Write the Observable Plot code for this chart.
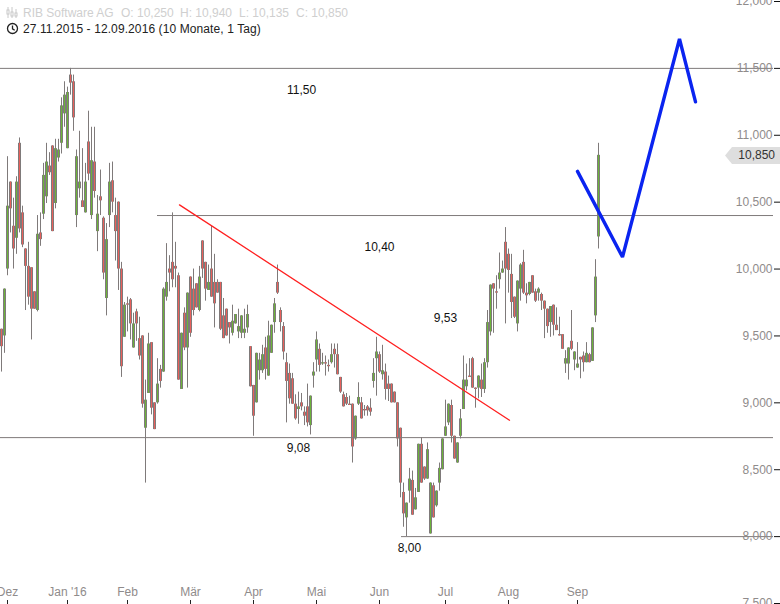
<!DOCTYPE html>
<html><head><meta charset="utf-8">
<script src="https://cdn.jsdelivr.net/npm/d3@7"></script>
<script src="https://cdn.jsdelivr.net/npm/@observablehq/plot@0.6"></script>
<style>
html,body{margin:0;padding:0;background:#fff;}
#wrap{position:relative;width:780px;height:604px;overflow:hidden;font-family:"Liberation Sans",Arial,sans-serif;}
#wrap svg.chart,#wrap figure{display:block;margin:0;}
.hd{position:absolute;font-size:12px;line-height:14px;white-space:pre;}
#pill{position:absolute;left:725px;top:147px;width:55px;height:17px;background:#dedede;clip-path:polygon(0 50%,7px 0,100% 0,100% 100%,7px 100%);font-size:12px;line-height:17px;color:#333;text-align:right;box-sizing:border-box;padding-right:5px;}
.ic{position:absolute;left:6px;}
</style></head><body>
<div id="wrap">
<div id="chart"></div>
<svg class="ic" style="top:6px" width="12" height="13" viewBox="0 0 12 13"><g stroke="#c8c8c8" fill="none"><path d="M2 1v11M6 1v11M10 3v9"/><rect x="1" y="4" width="2" height="4" fill="#fff"/><rect x="5" y="6" width="2" height="4" fill="#fff"/><rect x="9" y="7" width="2" height="3" fill="#fff"/></g></svg>
<svg class="ic" style="top:22px" width="13" height="13" viewBox="0 0 13 13"><g stroke="#222" stroke-width="1.3" fill="none"><circle cx="6.5" cy="6.5" r="5"/><path d="M6.5 3.5v3.3l2.2 1.4"/></g></svg>
<div class="hd" style="left:23px;top:6px;color:#cfcfcf">RIB Software AG</div>
<div class="hd" style="left:121px;top:6px;color:#cfcfcf">O: 10,250</div>
<div class="hd" style="left:180px;top:6px;color:#cfcfcf">H: 10,940</div>
<div class="hd" style="left:239px;top:6px;color:#cfcfcf">L: 10,135</div>
<div class="hd" style="left:296px;top:6px;color:#cfcfcf">C: 10,850</div>
<div class="hd" style="left:23px;top:22px;color:#222;letter-spacing:.1px">27.11.2015 - 12.09.2016 (10 Monate, 1 Tag)</div>
<div id="pill">10,850</div>
</div>
<script>
const candleColors = "RGGRRGRRRR"+"RRGRGGRRGG"+"GGGRRGGRGR"+"GRGRRGGRRR"+"RGRRGRRRGG"+"RRGRGGRRRR"+"GRGRRRGRRG"+"RRRRRRRGGG"+"GGGRRGGGRG"+"GGRRRRRRRG"+"RRRGGGRGRR"+"GRRRRRRRGG"+"RRRRGGRGRR"+"RRRRRGGRGG"+"RRGGRGGGGG"+"RRGGGGRRRG"+"RGGGRRGGRR"+"RRGGRRGRRG"+"RRRGRRRRGG"+"RGGRRGRGGG";
const bodyTop = [9.55,9.85,10.47,10.65,10.32,10.65,10.94,10.42,10.15,10.02,
10.01,9.83,10.26,10.27,10.70,10.80,10.77,10.92,10.90,10.89,
11.22,11.30,11.32,11.45,11.40,10.84,10.65,10.51,10.65,10.95,
10.81,10.80,10.41,10.54,10.38,10.22,10.65,10.66,10.40,10.50,
10.00,9.73,9.74,9.77,9.59,9.68,9.48,9.50,9.02,9.44,
9.45,9.00,9.14,9.25,9.85,9.90,10.00,10.05,10.02,9.95,
9.52,9.67,9.82,9.94,9.85,9.89,9.94,10.21,10.05,9.90,
10.00,9.90,9.90,9.90,9.65,9.70,9.60,9.61,9.66,9.57,
9.65,9.55,9.66,9.42,9.13,9.37,9.32,9.36,9.41,9.50,
9.58,9.74,9.90,9.69,9.57,9.30,9.22,9.18,8.99,8.97,
9.00,8.93,8.97,9.05,9.23,9.47,9.40,9.30,9.30,9.28,
9.36,9.40,9.36,9.19,9.06,9.04,8.99,8.99,8.90,9.04,
9.00,8.95,8.97,8.96,9.22,9.38,9.36,9.24,9.23,9.14,
9.14,9.08,9.00,8.81,8.33,8.25,8.43,8.42,8.29,8.69,
8.69,8.52,8.65,8.40,8.38,8.34,8.51,8.73,8.82,8.99,
8.98,8.75,8.70,8.88,9.17,9.17,9.20,9.33,9.11,9.20,
9.17,9.30,9.60,9.88,9.89,9.83,9.97,10.00,10.20,10.11,
9.96,9.79,9.91,10.03,10.05,9.82,9.90,9.95,9.83,9.85,
9.81,9.76,9.70,9.72,9.73,9.58,9.51,9.51,9.33,9.41,
9.46,9.38,9.29,9.34,9.35,9.37,9.36,9.56,9.94,10.85];
const bodyBottom = [9.42,9.50,10.00,10.45,10.15,10.23,10.30,10.18,10.02,9.79,
9.70,9.70,9.69,10.22,10.41,10.54,10.72,10.28,10.49,10.83,
10.94,11.16,10.90,11.39,11.13,10.40,10.60,10.46,10.42,10.71,
10.40,10.58,10.28,10.51,9.97,9.78,10.40,10.50,10.28,10.00,
9.27,9.49,9.73,9.59,9.41,9.59,9.35,8.99,8.81,9.07,
8.96,8.80,9.00,9.16,9.23,9.79,9.97,9.92,10.00,9.17,
9.10,9.41,9.41,9.52,9.69,9.71,9.69,10.00,9.85,9.84,
9.79,9.74,9.82,9.55,9.48,9.50,9.56,9.52,9.59,9.53,
9.52,9.52,9.56,9.12,8.90,9.00,9.24,9.24,9.25,9.20,
9.37,9.60,9.82,9.60,9.38,9.16,9.03,8.99,8.88,8.95,
8.97,8.90,8.85,8.83,9.20,9.32,9.28,9.29,9.29,9.27,
9.30,9.36,9.21,9.08,8.97,8.99,8.98,8.67,8.73,8.99,
8.88,8.94,8.94,8.93,9.16,9.33,9.23,9.21,9.10,9.10,
9.00,9.00,8.73,8.40,8.17,8.14,8.34,8.16,8.20,8.33,
8.40,8.43,8.43,8.02,8.14,8.23,8.40,8.50,8.75,8.85,
8.75,8.58,8.55,8.75,8.95,9.12,9.19,9.11,9.10,9.11,
9.10,9.10,9.30,9.53,9.85,9.82,9.92,9.97,10.00,9.99,
9.75,9.64,9.59,9.85,9.82,9.80,9.81,9.82,9.76,9.82,
9.76,9.70,9.57,9.60,9.58,9.54,9.50,9.40,9.29,9.29,
9.40,9.32,9.26,9.32,9.30,9.30,9.30,9.31,9.65,10.24];
const highs = [9.55,9.85,10.84,10.65,10.53,10.69,10.98,10.47,10.15,10.20,
10.01,9.83,10.40,10.42,10.79,10.94,10.87,10.92,10.97,10.97,
11.28,11.40,11.36,11.50,11.45,10.89,11.03,10.90,10.79,11.18,
11.06,11.06,10.55,10.74,10.39,10.34,10.79,10.80,10.53,10.50,
10.05,9.75,9.79,9.78,9.67,9.70,9.64,9.50,9.17,9.52,
9.45,9.00,9.33,9.28,9.86,10.19,10.10,10.42,10.20,9.97,
9.52,9.71,9.82,9.94,10.00,9.89,10.02,10.21,10.05,10.03,
10.32,10.11,9.92,9.90,9.78,9.70,9.60,9.73,9.66,9.70,
9.65,9.70,9.73,9.42,9.13,9.37,9.37,9.43,9.49,9.61,
9.58,9.78,10.03,9.71,9.60,9.37,9.29,9.22,9.06,9.08,
9.07,8.97,9.14,9.05,9.30,9.53,9.44,9.37,9.35,9.32,
9.44,9.44,9.44,9.19,9.08,9.07,9.05,8.99,8.90,9.15,
9.04,8.98,8.98,9.03,9.33,9.49,9.38,9.43,9.29,9.20,
9.14,9.08,9.00,8.81,8.40,8.25,8.51,8.49,8.36,8.69,
8.74,8.52,8.70,8.40,8.40,8.34,8.55,8.73,9.02,8.99,
9.02,8.75,8.70,8.95,9.35,9.29,9.33,9.34,9.11,9.20,
9.29,9.33,9.69,9.88,9.89,9.95,10.12,10.06,10.31,10.15,
10.11,9.79,9.91,10.04,10.14,9.89,9.90,9.95,9.85,9.86,
9.82,9.76,9.70,9.72,9.73,9.71,9.64,9.51,9.39,9.41,
9.69,9.38,9.45,9.34,9.38,9.45,9.37,9.56,10.07,10.94];
const lows = [9.23,9.37,9.95,10.27,10.00,10.11,10.27,10.16,9.69,9.73,
9.47,9.70,9.68,10.17,10.37,10.49,10.70,10.28,10.45,10.80,
10.86,11.06,10.90,11.30,11.03,10.31,10.53,10.46,10.42,10.66,
10.37,10.53,10.13,10.40,9.92,9.65,10.31,10.42,10.06,9.84,
9.19,9.49,9.53,9.47,9.41,9.46,9.32,8.96,8.40,9.07,
8.91,8.80,8.99,9.11,9.23,9.76,9.83,9.86,9.86,9.17,
9.10,9.39,9.11,9.49,9.65,9.71,9.68,9.93,9.76,9.84,
9.79,9.56,9.82,9.54,9.48,9.50,9.44,9.50,9.59,9.48,
9.48,9.48,9.52,9.12,8.75,9.00,9.17,9.22,9.17,9.20,
9.37,9.52,9.81,9.53,9.32,8.85,8.99,8.99,8.87,8.84,
8.94,8.83,8.82,8.76,9.11,9.23,9.23,9.28,9.20,9.23,
9.29,9.26,9.21,9.07,8.97,8.98,8.98,8.55,8.72,8.98,
8.88,8.90,8.90,8.90,9.11,9.05,9.22,9.17,9.02,9.01,
9.00,9.00,8.67,8.29,8.07,8.00,8.25,8.16,8.20,8.33,
8.40,8.42,8.43,8.02,8.14,8.22,8.34,8.50,8.75,8.83,
8.70,8.58,8.55,8.73,8.95,9.09,9.19,9.11,8.96,9.03,
9.04,9.07,9.26,9.50,9.52,9.70,9.85,9.97,9.59,9.82,
9.63,9.63,9.53,9.76,9.81,9.74,9.80,9.82,9.75,9.76,
9.69,9.48,9.52,9.49,9.50,9.54,9.50,9.40,9.22,9.17,
9.39,9.24,9.26,9.18,9.23,9.30,9.30,9.31,9.60,10.15];

const monthIdx = [2,22,42,63,84,105,126,148,169,192];
const monthLabels = ["Dez","Jan '16","Feb","Mär","Apr","Mai","Jun","Jul","Aug","Sep"];
const priceTicks = [7.5,8,8.5,9,9.5,10,10.5,11,11.5,12];

const levelValues = [11.50,10.40,8.74,8.00];
const levelStart = [-0.2,52,-0.2,133.4];
const levelEnd = 257.3;

const noteIdx = [100,126,148,99,136];
const noteY = [11.34,10.16,9.63,8.66,7.91];
const noteText = ["11,50","10,40","9,53","9,08","8,00"];

const trendIdx = [59.4,169.4];
const trendVal = [10.48,8.87];
const arrowIdx = [192.1,207.1,226.1,231.2];
const arrowVal = [10.73,10.09,11.72,11.25];

const idx = d3.range(bodyTop.length);
const GRAY = "#7f7a7a";
const fillOf = i => candleColors[i]==="G" ? "#6cb33a" : "#e8605c";

const chart = Plot.plot({
  width:780, height:604,
  marginTop:1, marginBottom:4, marginLeft:0, marginRight:7,
  style:{fontFamily:'"Liberation Sans",Arial,sans-serif',fontSize:"12px",background:"#fff",overflow:"hidden"},
  x:{type:"linear",domain:[-0.2,257.3],range:[0,773],round:true},
  y:{type:"linear",domain:[7.5,12],range:[603,1]},
  marks:[
    Plot.ruleX(idx,{x:i=>i,y1:i=>lows[i],y2:i=>highs[i],stroke:GRAY,strokeWidth:1}),
    Plot.ruleX(idx,{x:i=>i,y1:i=>bodyBottom[i],y2:i=>bodyTop[i],stroke:GRAY,strokeWidth:3}),
    Plot.ruleX(idx,{x:i=>i,y1:i=>bodyBottom[i],y2:i=>bodyTop[i],stroke:fillOf,strokeWidth:1}),
    Plot.ruleY(levelValues,{y:d=>d,x1:(d,i)=>levelStart[i],x2:levelEnd,stroke:GRAY,strokeWidth:1}),
    Plot.line(trendIdx,{x:d=>d,y:(d,i)=>trendVal[i],stroke:"#ff2020",strokeWidth:1.3}),
    Plot.line(arrowIdx,{x:d=>d,y:(d,i)=>arrowVal[i],stroke:"#0a24f0",strokeWidth:3.4,strokeLinejoin:"miter"}),
    Plot.text(noteText,{x:(d,i)=>noteIdx[i],y:(d,i)=>noteY[i],text:d=>d,fill:"#111",fontSize:12}),
    Plot.axisY(priceTicks,{anchor:"right",tickSize:7,stroke:"#111",text:null,label:null}),
    Plot.axisY(priceTicks,{anchor:"right",tickSize:0,tickPadding:-1,textAnchor:"end",fill:"#8f8b8b",stroke:null,fontSize:12,label:null,tickFormat:d=>d3.format(".3f")(d).replace(".",",")}),
    Plot.axisX(monthIdx,{anchor:"bottom",tickSize:4,stroke:"#222",text:null,label:null}),
    Plot.text(monthIdx,{x:d=>d,text:(d,i)=>monthLabels[i],frameAnchor:"bottom",dy:-5,fill:"#8f8b8b",fontSize:12})
  ]
});
chart.classList.add("chart");
document.getElementById("chart").appendChild(chart);
</script>
</body></html>
